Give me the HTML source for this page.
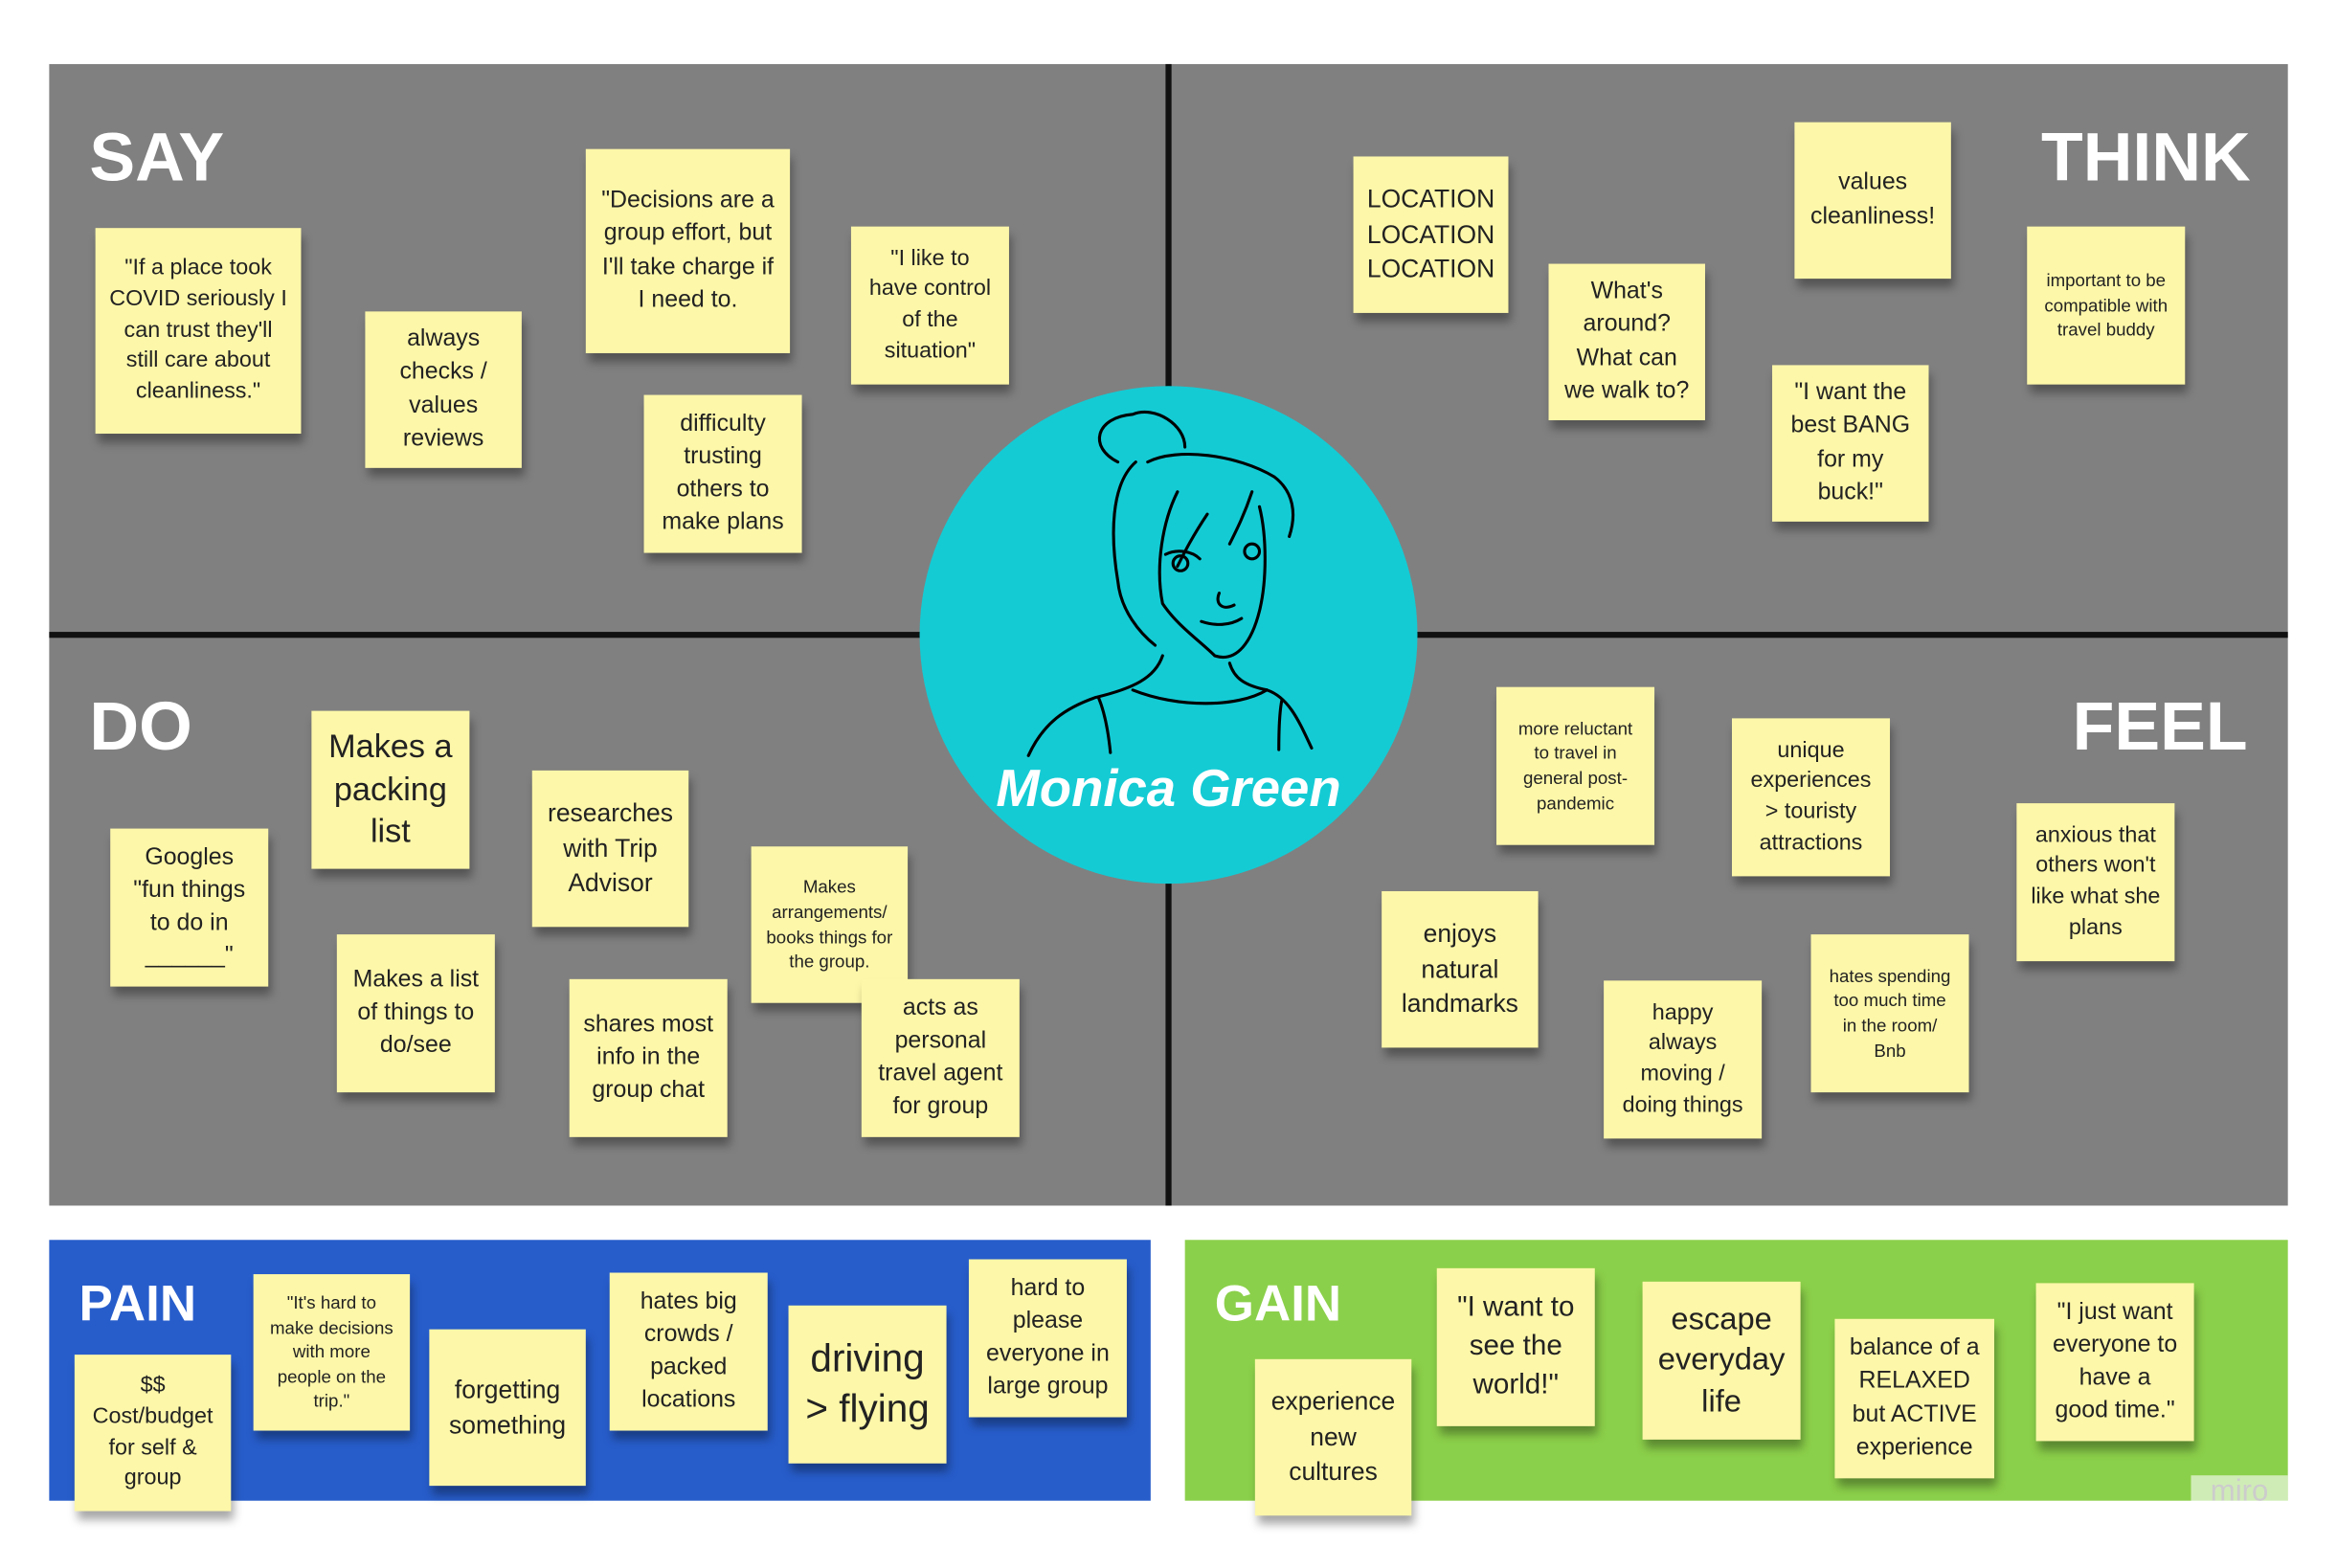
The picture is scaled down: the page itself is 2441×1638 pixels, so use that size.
<!DOCTYPE html>
<html><head><meta charset="utf-8"><style>
html,body{margin:0;padding:0;background:#fff;width:2441px;height:1638px;overflow:hidden}
#w{position:absolute;left:0;top:0;width:1568px;height:1052px;transform:scale(1.5568);transform-origin:0 0;font-family:"Liberation Sans",sans-serif}
.p{position:absolute}
.s{position:absolute;background:#fdf7a9;box-shadow:2px 6px 6px rgba(0,0,0,0.35);display:flex;align-items:center;justify-content:center;text-align:center;color:#222;line-height:1.38;box-sizing:border-box;padding:4px 9px}
.h{position:absolute;color:#fff;font-weight:bold;font-size:46px}
</style></head><body><div id="w">
<div class="p" style="left:33px;top:43px;width:1502px;height:766px;background:#808080"></div>
<div class="p" style="left:782px;top:43px;width:4px;height:766px;background:#111"></div>
<div class="p" style="left:33px;top:424px;width:1502px;height:4px;background:#111"></div>
<div class="p" style="left:33px;top:832px;width:739px;height:175px;background:#275dcb"></div>
<div class="p" style="left:795px;top:832px;width:740px;height:175px;background:#8bd04a"></div>
<svg class="p" style="left:0;top:0" width="1568" height="1052">
<circle cx="784" cy="426" r="167" fill="#14cbd4"/>
<g fill="none" stroke="#000" stroke-width="2" stroke-linecap="round">
<path d="M750,310 C730,300 735,280 760,278 C775,272 795,285 795,300"/>
<path d="M770,310 C790,300 830,305 855,320 C868,330 870,345 865,360"/>
<path d="M762,310 C745,325 745,360 750,390 C752,410 765,425 775,433"/>
<path d="M790,330 C780,350 775,380 780,405 C790,420 805,430 815,440 C830,445 840,430 845,410 C850,390 850,360 845,340"/>
<path d="M810,345 C800,360 795,370 790,380"/>
<path d="M840,330 C835,345 830,355 825,365"/>
<path d="M782,372 C790,368 800,370 805,375"/>
<circle cx="792" cy="378" r="5"/>
<circle cx="840" cy="370" r="5"/>
<path d="M818,398 C815,405 820,410 828,406"/>
<path d="M806,417 C815,420 825,420 833,415"/>
<path d="M780,440 C775,455 760,462 735,468 C715,475 700,485 690,507"/>
<path d="M825,445 C828,455 835,460 850,463 C865,468 872,485 880,502"/>
<path d="M760,463 C790,475 830,475 850,463"/>
<path d="M737,468 C742,480 744,495 745,505"/>
<path d="M860,470 C858,480 858,495 858,503"/>
</g>
<text x="784" y="541" text-anchor="middle" fill="#fff" font-family="Liberation Sans,sans-serif" font-weight="bold" font-style="italic" font-size="35">Monica Green</text>
</svg>
<div class="h" style="left:60px;top:78px">SAY</div>
<div class="h" style="right:58px;top:78px">THINK</div>
<div class="h" style="left:60px;top:460px">DO</div>
<div class="h" style="right:60px;top:460px">FEEL</div>
<div class="h" style="left:53px;top:856px;font-size:34px">PAIN</div>
<div class="h" style="left:815px;top:856px;font-size:34px">GAIN</div>

<div class="s" style="left:64px;top:153px;width:138px;height:138px;font-size:15px">"If a place took COVID seriously I can trust they'll still care about cleanliness."</div>
<div class="s" style="left:245px;top:209px;width:105px;height:105px;font-size:16px">always checks / values reviews</div>
<div class="s" style="left:393px;top:100px;width:137px;height:137px;font-size:16px">"Decisions are a group effort, but I'll take charge if I need to.</div>
<div class="s" style="left:571px;top:152px;width:106px;height:106px;font-size:15px">"I like to have control of the situation"</div>
<div class="s" style="left:432px;top:265px;width:106px;height:106px;font-size:16px">difficulty trusting others to make plans</div>

<div class="s" style="left:908px;top:105px;width:104px;height:105px;font-size:17px">LOCATION LOCATION LOCATION</div>
<div class="s" style="left:1039px;top:177px;width:105px;height:105px;font-size:16px">What's around? What can we walk to?</div>
<div class="s" style="left:1204px;top:82px;width:105px;height:105px;font-size:16px">values cleanliness!</div>
<div class="s" style="left:1189px;top:245px;width:105px;height:105px;font-size:16px">"I want the best BANG for my buck!"</div>
<div class="s" style="left:1360px;top:152px;width:106px;height:106px;font-size:12px">important to be compatible with travel buddy</div>

<div class="s" style="left:209px;top:477px;width:106px;height:106px;font-size:22px;line-height:1.3">Makes a packing list</div>
<div class="s" style="left:74px;top:556px;width:106px;height:106px;font-size:16px">Googles "fun things to do in ______"</div>
<div class="s" style="left:357px;top:517px;width:105px;height:105px;font-size:17px">researches with Trip Advisor</div>
<div class="s" style="left:504px;top:568px;width:105px;height:105px;font-size:12px">Makes arrangements/ books things for the group.</div>
<div class="s" style="left:226px;top:627px;width:106px;height:106px;font-size:16px">Makes a list of things to do/see</div>
<div class="s" style="left:382px;top:657px;width:106px;height:106px;font-size:16px">shares most info in the group chat</div>
<div class="s" style="left:578px;top:657px;width:106px;height:106px;font-size:16px">acts as personal travel agent for group</div>

<div class="s" style="left:1004px;top:461px;width:106px;height:106px;font-size:12px">more reluctant to travel in general post-pandemic</div>
<div class="s" style="left:1162px;top:482px;width:106px;height:106px;font-size:15px">unique experiences &gt; touristy attractions</div>
<div class="s" style="left:1353px;top:539px;width:106px;height:106px;font-size:15px">anxious that others won't like what she plans</div>
<div class="s" style="left:927px;top:598px;width:105px;height:105px;font-size:17px">enjoys natural landmarks</div>
<div class="s" style="left:1076px;top:658px;width:106px;height:106px;font-size:15px">happy always moving / doing things</div>
<div class="s" style="left:1215px;top:627px;width:106px;height:106px;font-size:12px">hates spending too much time in the room/ Bnb</div>

<div class="s" style="left:50px;top:909px;width:105px;height:105px;font-size:15px">$$ Cost/budget for self &amp; group</div>
<div class="s" style="left:170px;top:855px;width:105px;height:105px;font-size:12px">"It's hard to make decisions with more people on the trip."</div>
<div class="s" style="left:288px;top:892px;width:105px;height:105px;font-size:17px">forgetting something</div>
<div class="s" style="left:409px;top:854px;width:106px;height:106px;font-size:16px">hates big crowds / packed locations</div>
<div class="s" style="left:529px;top:876px;width:106px;height:106px;font-size:26px;line-height:1.3">driving &gt; flying</div>
<div class="s" style="left:650px;top:845px;width:106px;height:106px;font-size:16px">hard to please everyone in large group</div>

<div class="s" style="left:842px;top:912px;width:105px;height:105px;font-size:17px">experience new cultures</div>
<div class="s" style="left:964px;top:851px;width:106px;height:106px;font-size:19px">"I want to see the world!"</div>
<div class="s" style="left:1102px;top:860px;width:106px;height:106px;font-size:21px;line-height:1.3">escape everyday life</div>
<div class="s" style="left:1231px;top:885px;width:107px;height:107px;font-size:16px">balance of a RELAXED but ACTIVE experience</div>
<div class="s" style="left:1366px;top:861px;width:106px;height:106px;font-size:16px">"I just want everyone to have a good time."</div>
<div class="p" style="left:1470px;top:990px;width:65px;height:30px;background:rgba(255,255,255,0.6);color:#ccc;font-size:20px;text-align:center">miro</div>
</div></body></html>
